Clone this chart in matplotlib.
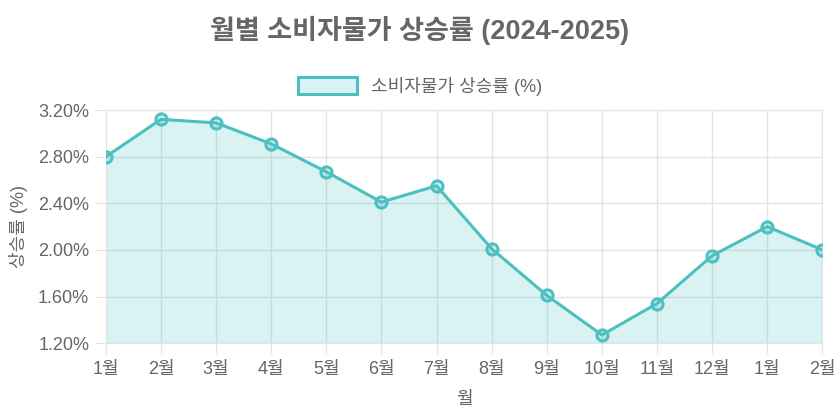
import matplotlib
matplotlib.use('Agg')
import matplotlib.pyplot as plt
from matplotlib.ticker import FuncFormatter
from matplotlib.patches import Patch

plt.rcParams['font.family'] = ['Liberation Sans', 'Noto Sans CJK KR']

# data
months = ['1월', '2월', '3월', '4월', '5월', '6월', '7월', '8월', '9월', '10월', '11월', '12월', '1월', '2월']
cpi = [2.80, 3.12, 3.09, 2.91, 2.67, 2.41, 2.55, 2.01, 1.61, 1.27, 1.54, 1.95, 2.20, 2.00]
y_ticks = [1.2, 1.6, 2.0, 2.4, 2.8, 3.2]

line_col = '#4bc0c0'
fill_col = (75/255, 192/255, 192/255, 0.2)
text_col = '#666666'
grid_col = '#e4e4e4'

fig = plt.figure(figsize=(8.4, 4.2), dpi=100)
ax = fig.add_axes([0.126, 0.183, 0.853, 0.555])

x = list(range(len(months)))
ax.fill_between(x, cpi, 1.2, color=fill_col, linewidth=0)
ax.plot(x, cpi, color=line_col, linewidth=2.2, marker='o', markersize=8,
        markerfacecolor=fill_col, markeredgecolor=line_col, markeredgewidth=2.2, zorder=3)

ax.set_xlim(0, len(months) - 1)
ax.set_ylim(1.2, 3.2)
ax.set_xticks(x)
ax.set_xticklabels(months)
ax.set_yticks(y_ticks)
ax.yaxis.set_major_formatter(FuncFormatter(lambda v, p: '%.2f%%' % v))

ax.grid(True, color=grid_col, linewidth=1)
ax.set_axisbelow(True)
for s in ax.spines.values():
    s.set_color(grid_col)
ax.tick_params(axis='both', colors=grid_col, labelcolor=text_col, labelsize=13, length=8)
ax.tick_params(axis='x', pad=5)
ax.tick_params(axis='y', pad=4)

ax.set_xlabel('월', color=text_col, fontsize=13, labelpad=9)
ax.set_ylabel('상승률 (%)', color=text_col, fontsize=13, labelpad=7)

fig.text(0.5, 0.928, '월별 소비자물가 상승률 (2024-2025)', ha='center', va='center',
         fontsize=19.5, fontweight='bold', color=text_col)

handle = Patch(facecolor=fill_col, edgecolor=line_col, linewidth=2.2)
fig.legend([handle], ['소비자물가 상승률 (%)'], loc='center', bbox_to_anchor=(0.5, 0.795),
           frameon=False, fontsize=13, labelcolor=text_col, handlelength=3.3, handleheight=1.1,
           handletextpad=0.75)

fig.savefig('out.png', dpi=100)
